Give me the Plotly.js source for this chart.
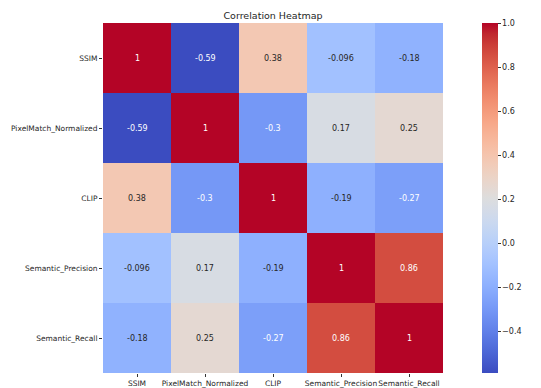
<!DOCTYPE html>
<html>
<head>
<meta charset="utf-8">
<script src="https://cdn.plot.ly/plotly-3.0.1.min.js"></script>
<style>
  html, body { margin: 0; padding: 0; background: #fff; }
  #chart { width: 541px; height: 388px; }
</style>
</head>
<body>
<div id="chart"></div>
<script>
// Metric names (rows and columns of the correlation matrix)
const metrics = ["SSIM", "PixelMatch_Normalized", "CLIP", "Semantic_Precision", "Semantic_Recall"];

// Correlation matrix rows
const rowSSIM       = [1, -0.59, 0.38, -0.096, -0.18];
const rowPixelMatch = [-0.59, 1, -0.3, 0.17, 0.25];
const rowCLIP       = [0.38, -0.3, 1, -0.19, -0.27];
const rowPrecision  = [-0.096, 0.17, -0.19, 1, 0.86];
const rowRecall     = [-0.18, 0.25, -0.27, 0.86, 1];
const corr = [rowSSIM, rowPixelMatch, rowCLIP, rowPrecision, rowRecall];

// Colour bar tick values
const barTicks = [-0.4, -0.2, 0.0, 0.2, 0.4, 0.6, 0.8, 1.0];

// Moreland "coolwarm" diverging map
const coolwarmRGB = [
  [59,76,192],[68,90,204],[77,104,215],[87,117,225],[98,130,234],[108,142,241],
  [119,154,247],[130,165,251],[141,176,254],[152,185,255],[163,194,255],[174,201,253],
  [184,208,249],[194,213,244],[204,217,238],[213,219,230],[221,221,221],[229,216,209],
  [236,211,197],[241,204,185],[245,196,173],[247,187,160],[247,177,148],[247,166,135],
  [244,154,123],[241,141,111],[236,127,99],[229,112,88],[222,96,77],[213,80,66],
  [203,62,56],[192,40,47],[180,4,38]
];
const n = coolwarmRGB.length - 1;
const colorscale = coolwarmRGB.map((c, i) => [i / n, `rgb(${c[0]},${c[1]},${c[2]})`]);

const all = corr.flat();
const zmin = Math.min(...all), zmax = Math.max(...all);

function colorAt(v) {
  const t = (v - zmin) / (zmax - zmin) * n;
  const i = Math.min(Math.floor(t), n - 1), f = t - i;
  const a = coolwarmRGB[i], b = coolwarmRGB[i + 1];
  return a.map((x, k) => x + (b[k] - x) * f);
}
function luminance(rgb) {
  const lin = rgb.map(c => { c /= 255; return c <= 0.03928 ? c / 12.92 : Math.pow((c + 0.055) / 1.055, 2.4); });
  return 0.2126 * lin[0] + 0.7152 * lin[1] + 0.0722 * lin[2];
}

// Value labels, light on dark cells and dark on light cells
const annotations = [];
corr.forEach((row, r) => row.forEach((v, c) => {
  annotations.push({
    x: metrics[c], y: metrics[r], xref: "x", yref: "y",
    text: String(v), showarrow: false,
    font: { family: "DejaVu Sans", size: 8, color: luminance(colorAt(v)) > 0.408 ? "#262626" : "#ffffff" }
  });
}));

const trace = {
  type: "heatmap",
  z: corr, x: metrics, y: metrics,
  zmin: zmin, zmax: zmax,
  colorscale: colorscale,
  hoverongaps: false,
  colorbar: {
    x: 1.115, xanchor: "left", xref: "paper",
    y: 0.5, yanchor: "middle",
    len: 1, lenmode: "fraction",
    thickness: 16, thicknessmode: "pixels",
    outlinewidth: 0,
    tickvals: barTicks, tickformat: ".1f",
    ticks: "outside", ticklen: 3, tickcolor: "#333",
    tickfont: { family: "DejaVu Sans", size: 8, color: "#262626" },
    xpad: 0, ypad: 0
  }
};

const layout = {
  width: 541, height: 388,
  margin: { l: 103, r: 98, t: 23, b: 15 },
  paper_bgcolor: "#fff", plot_bgcolor: "#fff",
  title: {
    text: "Correlation Heatmap",
    font: { family: "DejaVu Sans", size: 9.5, color: "#262626" },
    x: 0.5, xref: "paper", xanchor: "center",
    y: 1, yref: "paper", yanchor: "bottom", pad: { b: 4 }
  },
  xaxis: {
    type: "category", showgrid: false, zeroline: false,
    ticks: "outside", ticklen: 3, tickcolor: "#333",
    tickfont: { family: "DejaVu Sans", size: 7.5, color: "#262626" },
    tickangle: 0
  },
  yaxis: {
    type: "category", autorange: "reversed", showgrid: false, zeroline: false,
    ticks: "outside", ticklen: 3, tickcolor: "#333",
    tickfont: { family: "DejaVu Sans", size: 7.5, color: "#262626" }
  },
  annotations: annotations
};

Plotly.newPlot("chart", [trace], layout, { displayModeBar: false, staticPlot: true });
</script>
</body>
</html>
